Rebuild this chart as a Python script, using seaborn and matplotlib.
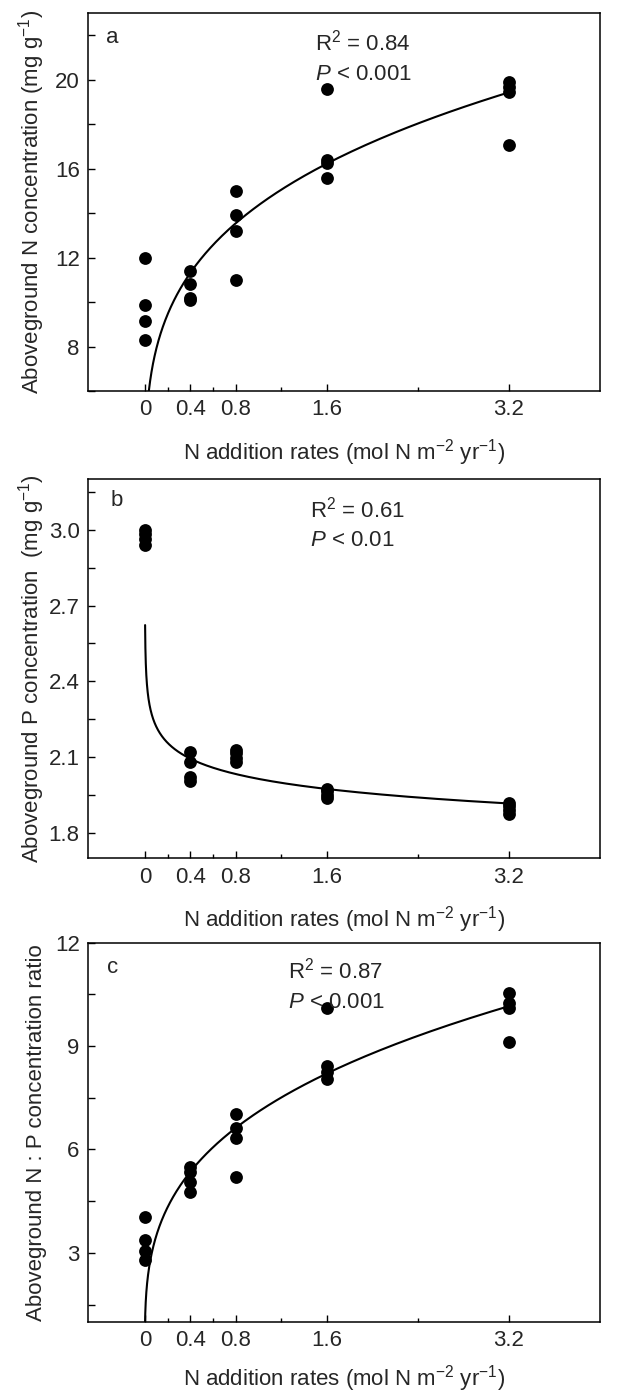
import numpy as np
import pandas as pd
import matplotlib
matplotlib.use("Agg")
import matplotlib.pyplot as plt
import seaborn as sns
from matplotlib.ticker import MultipleLocator, FixedLocator, FormatStrFormatter

# Taxa de adição de N de cada parcela (4 réplicas por taxa)
taxas_n = [0, 0, 0, 0, 0.4, 0.4, 0.4, 0.4, 0.8, 0.8, 0.8, 0.8,
           1.6, 1.6, 1.6, 1.6, 3.2, 3.2, 3.2, 3.2]

conc_n = [12.0, 9.85, 9.15, 8.3, 11.4, 10.8, 10.2, 10.1, 15.0, 13.9, 13.2, 11.0,
          19.6, 16.4, 16.25, 15.6, 19.9, 19.65, 19.45, 17.05]
conc_p = [3.0, 2.985, 2.965, 2.94, 2.12, 2.08, 2.02, 2.005, 2.13, 2.115, 2.095, 2.08,
          1.975, 1.965, 1.95, 1.94, 1.92, 1.905, 1.89, 1.875]
razao_np = [4.03, 3.37, 3.06, 2.79, 5.5, 5.35, 5.05, 4.77, 7.02, 6.61, 6.34, 5.21,
            10.11, 8.43, 8.24, 8.04, 10.53, 10.24, 10.1, 9.11]

# Ajustes do tipo potência y = a * x^b
ajuste_n = (14.36, 0.26)
ajuste_p = (2.014, -0.0425)
ajuste_np = (7.10, 0.308)

estat_n = ("0.84", "0.001")
estat_p = ("0.61", "0.01")
estat_np = ("0.87", "0.001")

x_ticks = [0, 0.4, 0.8, 1.6, 3.2]
x_ticks_menores = [0.2, 0.6, 1.2, 2.4]
x_rotulos = ["0", "0.4", "0.8", "1.6", "3.2"]

sns.set_theme(style="ticks")
plt.rcParams["font.family"] = ["Liberation Sans", "DejaVu Sans"]
plt.rcParams["mathtext.fontset"] = "custom"
plt.rcParams["mathtext.rm"] = "Liberation Sans"
plt.rcParams["mathtext.it"] = "Liberation Sans:italic"
plt.rcParams["mathtext.default"] = "regular"

FS = 16
xlabel = r"N addition rates (mol N $\mathregular{m^{-2}}$ $\mathregular{yr^{-1}}$)"


def painel(ax, y, ajuste, x_ini, estat, letra, ylim, y_maior, y_menor, fmt, ylabel,
           pos_r, pos_letra, pos_xlabel=-0.122):
    df = pd.DataFrame({"taxa": taxas_n, "valor": y})
    sns.scatterplot(data=df, x="taxa", y="valor", ax=ax, color="black",
                    s=85, linewidth=0, zorder=3)

    xs = np.geomspace(x_ini, 3.2, 500)
    curva = pd.DataFrame({"taxa": xs, "valor": ajuste[0] * xs ** ajuste[1]})
    sns.lineplot(data=curva, x="taxa", y="valor", ax=ax, color="black", lw=1.5)

    ax.set_xlim(-0.5, 4.0)
    ax.set_ylim(*ylim)
    ax.xaxis.set_major_locator(FixedLocator(x_ticks))
    ax.xaxis.set_minor_locator(FixedLocator(x_ticks_menores))
    ax.set_xticklabels(x_rotulos)
    ax.yaxis.set_major_locator(MultipleLocator(y_maior))
    ax.yaxis.set_minor_locator(MultipleLocator(y_menor))
    ax.yaxis.set_major_formatter(FormatStrFormatter(fmt))

    ax.tick_params(which="both", direction="in", width=1, labelsize=FS, color="black")
    ax.tick_params(axis="x", which="major", length=5, pad=6)
    ax.tick_params(axis="x", which="minor", length=3)
    ax.tick_params(axis="y", which="both", length=5, pad=6)
    for sp in ax.spines.values():
        sp.set_linewidth(1.1)
        sp.set_color("black")

    ax.set_xlabel(xlabel, fontsize=FS, va="top")
    ax.xaxis.set_label_coords(0.5, pos_xlabel)
    ax.set_ylabel(ylabel, fontsize=FS)
    ax.yaxis.set_label_coords(-0.08, 0.5)

    ax.text(pos_r[0], pos_r[1], r"$\mathregular{R^{2}}$ = " + estat[0],
            transform=ax.transAxes, fontsize=FS, va="baseline")
    ax.text(pos_r[0], pos_r[1] - 0.077, r"$\mathit{P}$ < " + estat[1],
            transform=ax.transAxes, fontsize=FS, va="baseline")
    ax.text(pos_letra[0], pos_letra[1], letra, transform=ax.transAxes,
            fontsize=FS, va="baseline")


fig = plt.figure(figsize=(6.28, 13.96), dpi=100)
ax_a = fig.add_axes([0.1401, 0.7199, 0.8153, 0.2708])
ax_b = fig.add_axes([0.1401, 0.3852, 0.8153, 0.2715])
ax_c = fig.add_axes([0.1401, 0.0532, 0.8153, 0.2715])

painel(ax_a, conc_n, ajuste_n, 1e-3, estat_n, "a", (6, 23), 4, 2, "%g",
       r"Aboveground N concentration (mg $\mathregular{g^{-1}}$)", (0.443, 0.900), (0.036, 0.921))
painel(ax_b, conc_p, ajuste_p, 2e-3, estat_p, "b", (1.7, 3.2), 0.3, 0.15, "%.1f",
       r"Aboveground P concentration  (mg $\mathregular{g^{-1}}$)", (0.434, 0.900), (0.044, 0.929))
painel(ax_c, razao_np, ajuste_np, 1e-3, estat_np, "c", (1, 12), 3, 1.5, "%g",
       "Aboveground N : P concentration ratio", (0.390, 0.906), (0.037, 0.921),
       pos_xlabel=-0.108)

fig.savefig("out.png", dpi=100)
